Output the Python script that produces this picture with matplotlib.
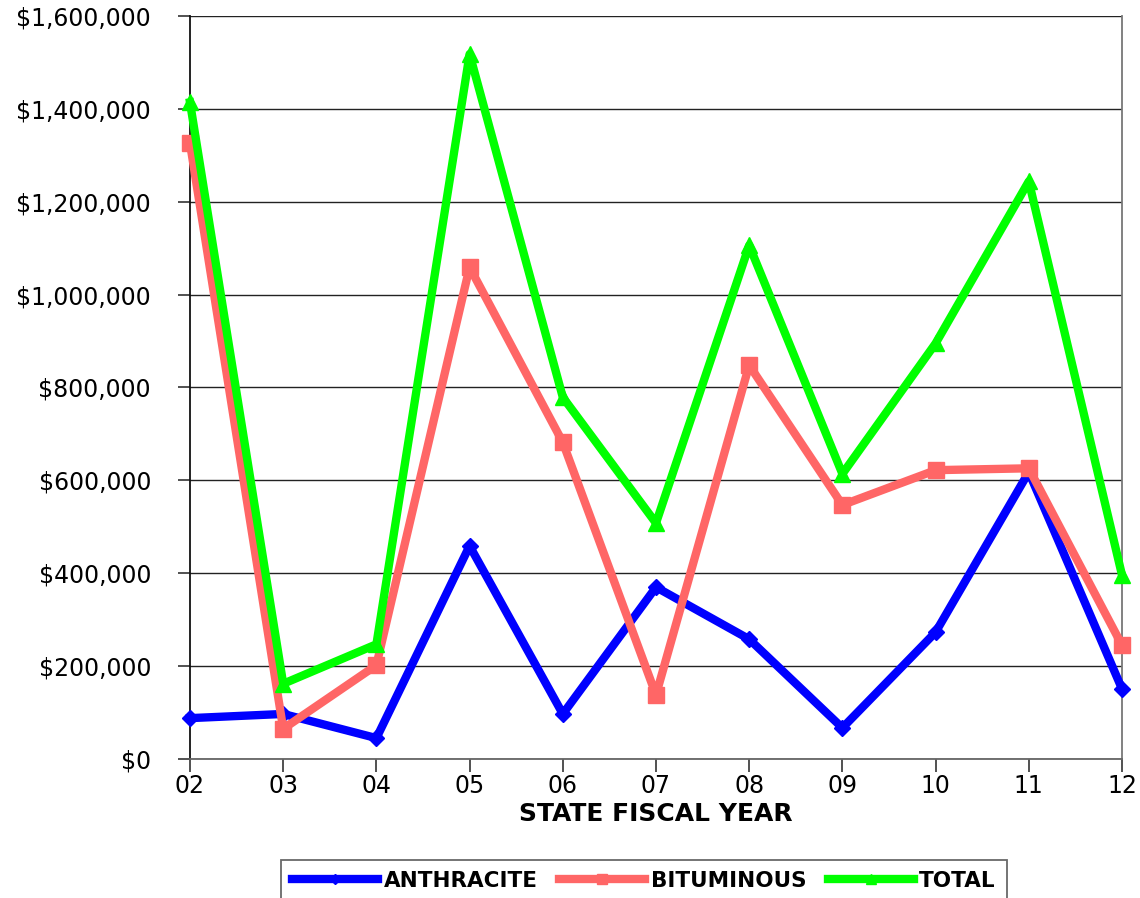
# Ingresos por carbon (antracita y bituminoso) por anio fiscal estatal
import numpy as np
import matplotlib.pyplot as plt
from matplotlib.ticker import FuncFormatter

# anios fiscales
Anios = ["02", "03", "04", "05", "06", "07", "08", "09", "10", "11", "12"]

# valores en dolares
Antracita = [88000, 97000, 45000, 459000, 97000, 370000, 258000, 67000, 273000, 618000, 151000]
Bituminoso = [1326000, 65000, 202000, 1059000, 682000, 138000, 848000, 547000, 622000, 626000, 245000]
Total = [1414000, 162000, 247000, 1518000, 779000, 508000, 1106000, 614000, 895000, 1244000, 396000]

plt.rcParams['font.family'] = ['DejaVu Sans']

fig = plt.figure(figsize=(11.4, 8.98), dpi=100)
ax = fig.add_axes([190 / 1140, 1 - 759 / 898, (1122 - 190) / 1140, (759 - 16) / 898])

x = np.arange(len(Anios))

ax.plot(x, Antracita, color="#0000FF", linewidth=6, marker="D", markersize=8,
        label="ANTHRACITE", clip_on=False, zorder=3)
ax.plot(x, Bituminoso, color="#FF6666", linewidth=6, marker="s", markersize=11,
        label="BITUMINOUS", clip_on=False, zorder=4)
ax.plot(x, Total, color="#00FF00", linewidth=6, marker="^", markersize=12,
        label="TOTAL", clip_on=False, zorder=5)

# ejes
ax.set_xlim(0, len(Anios) - 1)
ax.set_ylim(0, 1600000)
ax.set_xticks(x)
ax.set_xticklabels(Anios)
ax.set_yticks(np.arange(0, 1600001, 200000))
ax.yaxis.set_major_formatter(FuncFormatter(lambda v, p: "${:,.0f}".format(v)))

ax.tick_params(axis="y", length=9, width=1.2, pad=19, labelsize=17, color="#333333")
ax.tick_params(axis="x", length=9, width=1.2, pad=2, labelsize=17, color="#333333")

# cuadricula
ax.grid(axis="y", color="#222222", linewidth=1.0, zorder=0)
ax.set_axisbelow(True)

ax.spines["top"].set_visible(False)
ax.spines["left"].set_color("#111111")
ax.spines["left"].set_linewidth(1.3)
ax.spines["bottom"].set_color("#666666")
ax.spines["bottom"].set_linewidth(1.3)
ax.spines["right"].set_color("#777777")
ax.spines["right"].set_linewidth(1.3)

ax.set_xlabel("STATE FISCAL YEAR", fontsize=18, fontweight="bold", labelpad=3)

# leyenda
leg = fig.legend(loc="upper center", bbox_to_anchor=(644 / 1140, 1 - 860 / 898),
                 ncol=3, frameon=True, fancybox=False, edgecolor="#444444",
                 prop={"size": 15.5, "weight": "bold"}, handlelength=4.0,
                 handletextpad=0.25, columnspacing=1.0, borderpad=0.5,
                 borderaxespad=0, markerscale=0.6)
leg.get_frame().set_linewidth(1.3)

plt.savefig("out.png", dpi=100)
